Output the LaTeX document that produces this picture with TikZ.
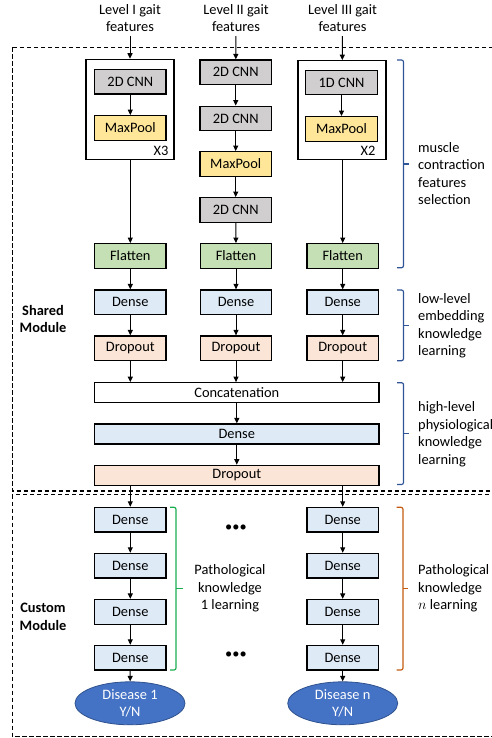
\documentclass[tikz,border=0pt]{standalone}
\usepackage{fontspec}
\setmainfont{Carlito}
\usetikzlibrary{arrows.meta,shapes.geometric,calc}
\definecolor{cnngray}{HTML}{D0CECE}
\definecolor{poolyellow}{HTML}{FFE699}
\definecolor{flatgreen}{HTML}{C5E0B4}
\definecolor{denseblue}{HTML}{DEEBF7}
\definecolor{droppeach}{HTML}{FBE5D6}
\definecolor{outblue}{HTML}{4472C4}
\definecolor{outedge}{HTML}{2F528F}
\definecolor{bracketblue}{HTML}{2F5597}
\definecolor{bracketgreen}{HTML}{1AAE50}
\definecolor{bracketorange}{HTML}{C55A11}
\begin{document}
\begin{tikzpicture}[x=1pt,y=-1pt,
  font=\fontsize{14.4}{17.6}\selectfont,
  layer/.style={draw=black,line width=1.2pt,minimum width=71.5pt,minimum height=24.7pt,inner sep=0pt},
  boxcnn/.style={layer,fill=cnngray},
  boxpool/.style={layer,fill=poolyellow},
  boxflat/.style={layer,fill=flatgreen},
  boxdense/.style={layer,fill=denseblue},
  boxdrop/.style={layer,fill=droppeach},
  widebox/.style={draw=black,line width=1.2pt,minimum width=284.3pt,minimum height=20pt,inner sep=0pt},
  frame/.style={draw=black,line width=1.2pt,fill=white,minimum width=88pt,inner sep=0pt},
  outcome/.style={ellipse,draw=outedge,line width=0.8pt,fill=outblue,text=white,minimum width=110pt,minimum height=43pt,inner sep=0pt,align=center},
  arr/.style={draw=black,line width=1pt,-{Triangle[length=5.5pt,width=5pt]}},
  module/.style={draw=black,line width=1.1pt,dash pattern=on 4.5pt off 2.5pt},
  bracket/.style={line width=1.2pt,rounded corners=2pt},
  note/.style={align=left,anchor=west,inner sep=0pt},
  caption/.style={align=center,inner sep=0pt},
]
\useasboundingbox (0,0) rectangle (491,738);

% module frames (dashed, running off the right edge)
\draw[module] (12.3,47.3) rectangle (530,491);
\draw[module] (12.3,494.6) rectangle (530,736.8);
\node[caption,font=\fontsize{14.4}{17.6}\selectfont\bfseries] (shared) at (43,319) {Shared\\Module};
\node[caption,font=\fontsize{14.4}{17.6}\selectfont\bfseries] (custom) at (43,617) {Custom\\Module};

% inputs
\node[caption] (in1) at (130,18) {Level I gait\\features};
\node[caption] (in2) at (236,18) {Level II gait\\features};
\node[caption] (in3) at (342.5,18) {Level III gait\\features};

% branch I
\node[frame,minimum height=100pt] (f1) at (130,109.3) {};
\node[boxcnn] (c1) at (130.3,81.7) {2D CNN};
\node[boxpool] (p1) at (130.3,128) {MaxPool};
\node[inner sep=0pt] (x3) at (161,151) {X3};

% branch II
\node[boxcnn] (c2a) at (235.7,72.3) {2D CNN};
\node[boxcnn] (c2b) at (235.7,118.5) {2D CNN};
\node[boxpool] (p2) at (235.7,164) {MaxPool};
\node[boxcnn] (c2c) at (235.7,210) {2D CNN};

% branch III
\node[frame,minimum height=98.6pt] (f3) at (342,110) {};
\node[boxcnn] (c3) at (341.5,82.5) {1D CNN};
\node[boxpool] (p3) at (341.5,129) {MaxPool};
\node[inner sep=0pt] (x2) at (368,151) {X2};

% per-branch embedding
\node[boxflat] (fl1) at (130.3,256) {Flatten};
\node[boxflat] (fl2) at (236,256) {Flatten};
\node[boxflat] (fl3) at (342.7,256) {Flatten};
\node[boxdense] (d1) at (130.3,302.3) {Dense};
\node[boxdense] (d2) at (236,302.3) {Dense};
\node[boxdense] (d3) at (342.7,302.3) {Dense};
\node[boxdrop] (r1) at (130.3,348.3) {Dropout};
\node[boxdrop] (r2) at (236,348.3) {Dropout};
\node[boxdrop] (r3) at (342.7,348.3) {Dropout};

% fused layers
\node[widebox,fill=white] (cat) at (236.8,392.7) {Concatenation};
\node[widebox,fill=denseblue] (dw) at (236.8,434) {Dense};
\node[widebox,fill=droppeach] (rw) at (236.8,475.3) {Dropout};

% task heads
\foreach \i/\y in {1/519.7,2/565.7,3/611.8,4/657.7}{
  \node[boxdense] (ha\i) at (130.3,\y) {Dense};
  \node[boxdense] (hn\i) at (342.7,\y) {Dense};
}
\node[outcome] (oa) at (130,703.3) {Disease 1\\[-1pt]Y/N};
\node[outcome] (on) at (342.7,703.3) {Disease n\\[-1pt]Y/N};
\node[inner sep=0pt] (dotsa) at (236,528) {\textbullet\textbullet\textbullet};
\node[inner sep=0pt] (dotsb) at (236,655) {\textbullet\textbullet\textbullet};

% connectors
\draw[arr,shorten <=4pt] (in1) -- (f1);
\draw[arr,shorten <=4pt] (in2) -- (c2a);
\draw[arr,shorten <=4pt] (in3) -- (f3);
\draw[arr] (c1) -- (p1);
\draw[arr] (c3) -- (p3);
\draw[arr] (c2a) -- (c2b);
\draw[arr] (c2b) -- (p2);
\draw[arr] (p2) -- (c2c);
\draw[arr] (f1.south -| fl1) -- (fl1);
\draw[arr] (c2c) -- (fl2);
\draw[arr] (f3.south -| fl3) -- (fl3);
\foreach \k in {1,2,3}{
  \draw[arr] (fl\k) -- (d\k);
  \draw[arr] (d\k) -- (r\k);
  \draw[arr] (r\k) -- (r\k |- cat.north);
}
\draw[arr] (cat) -- (dw);
\draw[arr] (dw) -- (rw);
\draw[arr] (rw.south -| ha1) -- (ha1);
\draw[arr] (rw.south -| hn1) -- (hn1);
\foreach \a/\b in {1/2,2/3,3/4}{
  \draw[arr] (ha\a) -- (ha\b);
  \draw[arr] (hn\a) -- (hn\b);
}
\draw[arr] (ha4) -- (oa);
\draw[arr] (hn4) -- (on);

% brackets with their notes
\draw[bracket,bracketblue] (397,60) -- (403.5,60) -- (403.5,267.7) -- (397,267.7);
\draw[bracketblue,line width=1.2pt] (403.5,164) -- (408.5,164);
\node[note] (n1) at (418,173.5) {muscle\\contraction\\features\\selection};

\draw[bracket,bracketblue] (397,290) -- (403.5,290) -- (403.5,360.7) -- (397,360.7);
\draw[bracketblue,line width=1.2pt] (403.5,325.3) -- (408.5,325.3);
\node[note] (n2) at (418,325.7) {low-level\\embedding\\knowledge\\learning};

\draw[bracket,bracketblue] (397,382.7) -- (403.5,382.7) -- (403.5,484.5) -- (397,484.5);
\draw[bracketblue,line width=1.2pt] (403.5,433.6) -- (408.5,433.6);
\node[note] (n3) at (418,434.3) {high-level\\physiological\\knowledge\\learning};

\draw[bracket,bracketgreen] (170,507.3) -- (176,507.3) -- (176,670) -- (170,670);
\draw[bracketgreen,line width=1.2pt] (176,588.6) -- (182.5,588.6);
\node[caption] (n4) at (230,588.5) {Pathological\\knowledge\\1 learning};

\draw[bracket,bracketorange] (396.5,507.3) -- (403,507.3) -- (403,670) -- (396.5,670);
\draw[bracketorange,line width=1.2pt] (403,588.6) -- (408,588.6);
\node[note] (n5) at (418,588.5) {Pathological\\knowledge\\$n$ learning};
\end{tikzpicture}
\end{document}
